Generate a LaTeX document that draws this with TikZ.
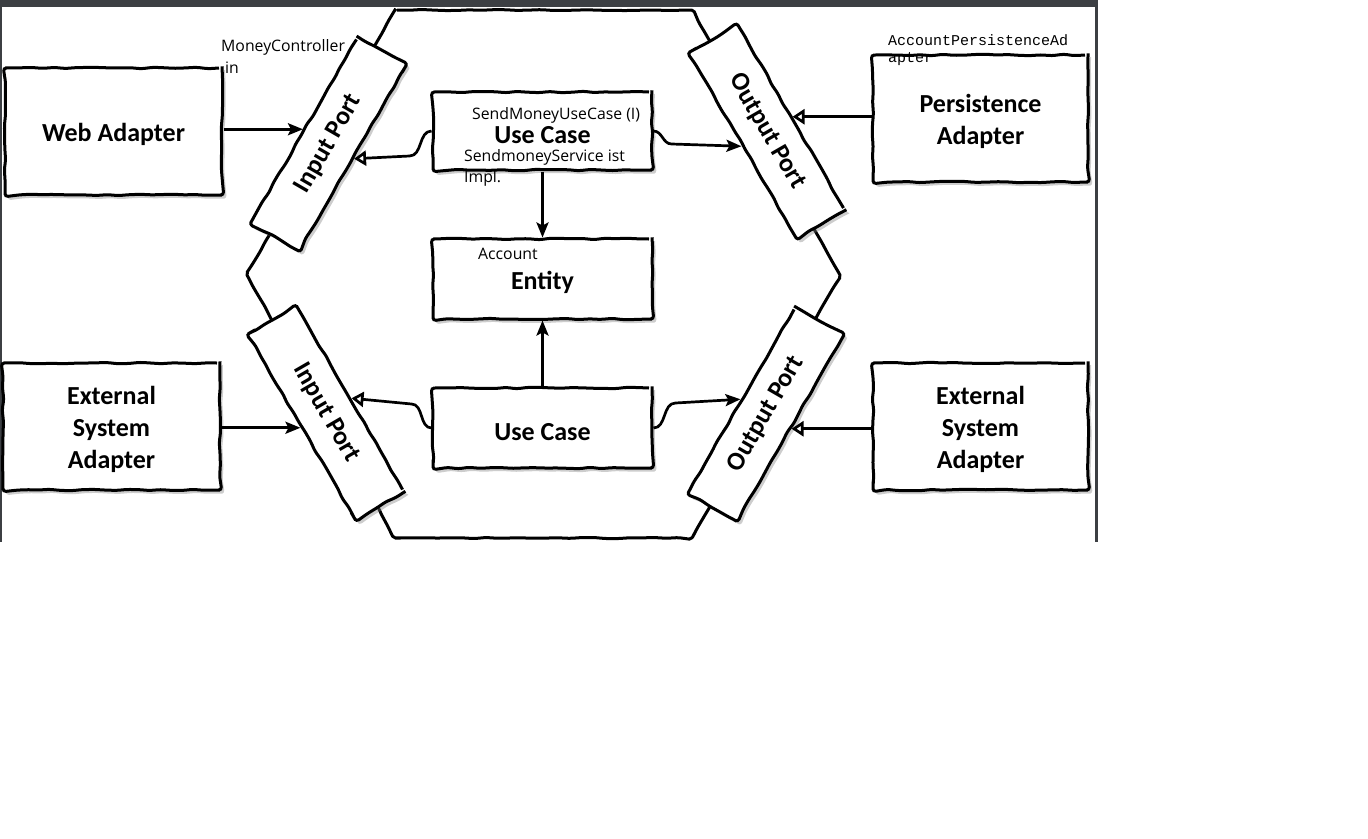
\documentclass[tikz,border=0pt]{standalone}
\usepackage{fontspec}
\setmainfont{Carlito}
\newfontfamily\notesans{Open Sans}
\newfontfamily\codemono{Liberation Mono}
\usetikzlibrary{arrows.meta,decorations.pathmorphing,shadows}
\definecolor{framegray}{RGB}{60,63,67}
\definecolor{shadowgray}{RGB}{130,130,130}
\definecolor{linescolor}{named}{black}

\begin{document}
\begin{tikzpicture}[x=1pt,y=1pt,yscale=-1,
	sketch/.style={draw=linescolor,line width=3pt,fill=white,
		decorate,decoration={random steps,segment length=11pt,amplitude=0.8pt},rounded corners=3pt,
		drop shadow={shadow xshift=3pt,shadow yshift=-3.5pt,opacity=0.4,fill=shadowgray}},
	block/.style={sketch,align=flush center,inner sep=0pt,text width=200pt,
		font=\bfseries\fontsize{26}{32}\selectfont,
		execute at begin node={\rule{0pt}{25pt}}},
	portbox/.style={sketch,minimum width=215pt,minimum height=56pt,inner sep=0pt,
		font=\bfseries\fontsize{26}{32}\selectfont},
	note/.style={anchor=base west,inner sep=0pt,font=\notesans\fontsize{15.8}{22}\selectfont},
	codenote/.style={anchor=base west,inner sep=0pt,font=\codemono\fontsize{15}{17}\selectfont},
	link/.style={draw=linescolor,line width=2.7pt,-{Stealth[length=15pt,width=12pt,inset=3pt]}},
	implements/.style={draw=linescolor,line width=2.7pt,-{Triangle[open,fill=white,length=12pt,width=15pt]}}]

\useasboundingbox (0,0) rectangle (1368,838);
\fill[white] (0,0) rectangle (1368,838);

% window frame
\fill[framegray] (0,0) rectangle (1097,7);
\fill[framegray] (0,0) rectangle (2,542);
\fill[framegray] (1095,0) rectangle (1098,542);

% hexagon
\draw[line width=3pt,decorate,decoration={random steps,segment length=12pt,amplitude=0.6pt},rounded corners=2pt]
	(395,10) -- (692,10) -- (840,275) -- (692,538) -- (395,538) -- (247,275) -- cycle;

% adapters
\node [block,minimum width=217pt,minimum height=127pt] (web) at (113.5,131.5) {Web Adapter};
\node [block,minimum width=215pt,minimum height=127pt] (pers) at (980.5,118.5) {Persistence\\Adapter};
\node [block,minimum width=217pt,minimum height=127pt] (extL) at (111.5,426.5) {External\\System\\Adapter};
\node [block,minimum width=215pt,minimum height=127pt] (extR) at (980.5,426.5) {External\\System\\Adapter};

% core
\node [block,minimum width=219pt,minimum height=78pt] (ucTop) at (542.5,131) {Use Case};
\node [block,minimum width=219pt,minimum height=80pt] (entity) at (542.5,279) {Entity};
\node [block,minimum width=219pt,minimum height=80pt] (ucBot) at (542.5,428) {Use Case};

% ports
\node [portbox,rotate=60] (inTop) at (328.5,144) {Input Port};
\node [portbox,rotate=-60] (outTop) at (767,131.5) {Output Port};
\node [portbox,rotate=-60] (inBot) at (326,413) {Input Port};
\node [portbox,rotate=60] (outBot) at (766,414) {Output Port};

% connectors
\draw [link] (web.east |- inTop.north) -- (inTop.north);
\draw [implements] (pers.west |- outTop.north) -- (outTop.north);
\draw [link] (extL.east |- inBot.south) -- (inBot.south);
\draw [implements] (extR.west |- outBot.south) -- (outBot.south);
\draw [link] (ucTop.south) -- (entity.north);
\draw [link] (ucBot.north) -- (entity.south);
\draw [implements] (ucTop.west) to[out=180,in=0] ++(-22,25) -- (inTop.south);
\draw [link] (ucTop.east) to[out=0,in=180] ++(18,13) -- (outTop.south);
\draw [implements] (ucBot.west) to[out=180,in=0] ++(-20,-24) -- (inBot.north);
\draw [link] (ucBot.east) to[out=0,in=180] ++(22,-25) -- (outBot.north);

% notes
\node [note] (ctrlNote) at (221,51) {MoneyController};
\node [note] (ctrlNoteB) at (225,73) {in};
\node [note] (ucNote) at (472,119) {SendMoneyUseCase (I)};
\node [note] (svcNote) at (464,161) {SendmoneyService ist};
\node [note] (svcNoteB) at (464,182) {Impl.};
\node [note] (accNote) at (478,259) {Account};
\node [codenote] (persNote) at (888,45) {AccountPersistenceAd};
\node [codenote] (persNoteB) at (888,62) {apter};
\end{tikzpicture}
\end{document}
